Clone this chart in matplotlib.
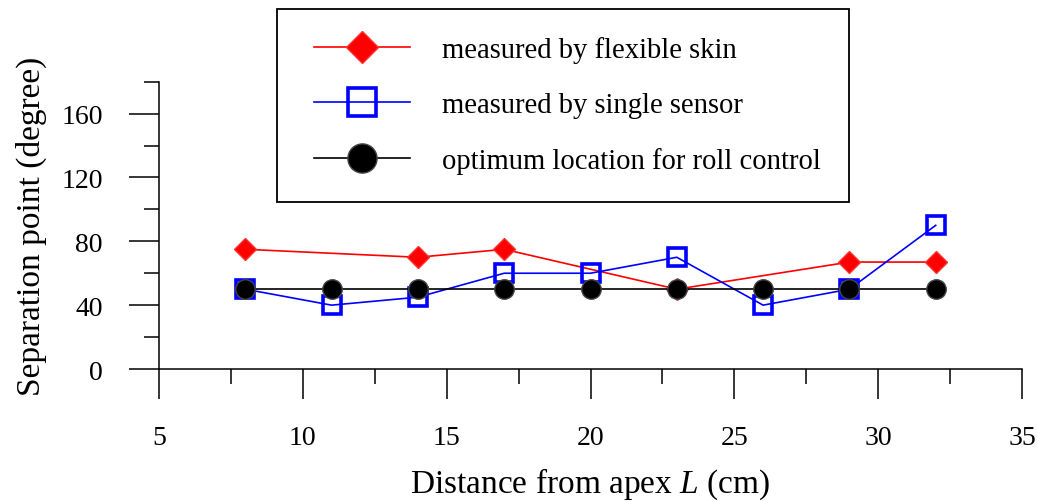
import matplotlib
matplotlib.use("Agg")
import matplotlib.pyplot as plt
from matplotlib.ticker import MultipleLocator
from matplotlib.legend_handler import HandlerLine2D

plt.rcParams["font.family"] = ["Liberation Serif", "DejaVu Serif"]
plt.rcParams["mathtext.fontset"] = "custom"
plt.rcParams["mathtext.it"] = "Liberation Serif:italic"
plt.rcParams["mathtext.rm"] = "Liberation Serif"

# Distance from apex (cm)
dist_skin = [8, 14, 17, 23, 29, 32]
sep_skin = [75, 70, 75, 50, 67, 67]

dist_single = [8, 11, 14, 17, 20, 23, 26, 29, 32]
sep_single = [50, 40, 45, 60, 60, 70, 40, 50, 90]

dist_opt = [8, 11, 14, 17, 20, 23, 26, 29, 32]
sep_opt = [50, 50, 50, 50, 50, 50, 50, 50, 50]

labels = ["measured by flexible skin",
          "measured by single sensor",
          "optimum location for roll control"]

W, H = 1037, 502
fig = plt.figure(figsize=(W / 100, H / 100), dpi=100)
ax = fig.add_axes([159 / W, 1 - 370 / H, (1022 - 159) / W, (370 - 82.7) / H])

ax.plot(dist_skin, sep_skin, color="red", lw=1.2, marker="D", ms=11,
        mfc="red", mec="#ff3030", mew=1.0, label=labels[0], clip_on=False, zorder=3)
ax.plot(dist_single, sep_single, color="blue", lw=1.2, marker="s", ms=13,
        mfc="none", mec="blue", mew=2.6, label=labels[1], clip_on=False, zorder=4)
ax.plot(dist_opt, sep_opt, color="black", lw=1.2, marker="o", ms=14,
        mfc="black", mec="#444444", mew=1.0, label=labels[2], clip_on=False, zorder=5)

ax.set_xlim(5, 35)
ax.set_ylim(0, 180)
ax.xaxis.set_major_locator(MultipleLocator(5))
ax.xaxis.set_minor_locator(MultipleLocator(2.5))
ax.yaxis.set_major_locator(MultipleLocator(40))
ax.yaxis.set_minor_locator(MultipleLocator(20))

for side in ("top", "right"):
    ax.spines[side].set_visible(False)
for side in ("left", "bottom"):
    ax.spines[side].set_linewidth(1.1)

ax.tick_params(which="major", direction="out", length=21.6, width=1.1,
               labelsize=20, pad=19)
ax.tick_params(which="minor", direction="out", length=10.8, width=1.1)

ax.set_xlabel("Distance from apex $L$ (cm)", fontsize=24, labelpad=11)
ax.set_ylabel("Separation point (degree)", fontsize=24, labelpad=10)

handler = HandlerLine2D(xpad=0.33)
leg = ax.legend(loc="upper left", bbox_to_anchor=(277 / W, 1 - 10 / H),
                bbox_transform=fig.transFigure, fontsize=20.6, frameon=True,
                fancybox=False, edgecolor="black", handlelength=3.7,
                handletextpad=1.12, labelspacing=1.01, borderpad=0.96,
                borderaxespad=0, numpoints=1, markerscale=1.5,
                handler_map={plt.Line2D: handler})
leg.get_frame().set_linewidth(1.3)
leg.get_frame().set_alpha(1)

fig.savefig("out.png", dpi=100)
